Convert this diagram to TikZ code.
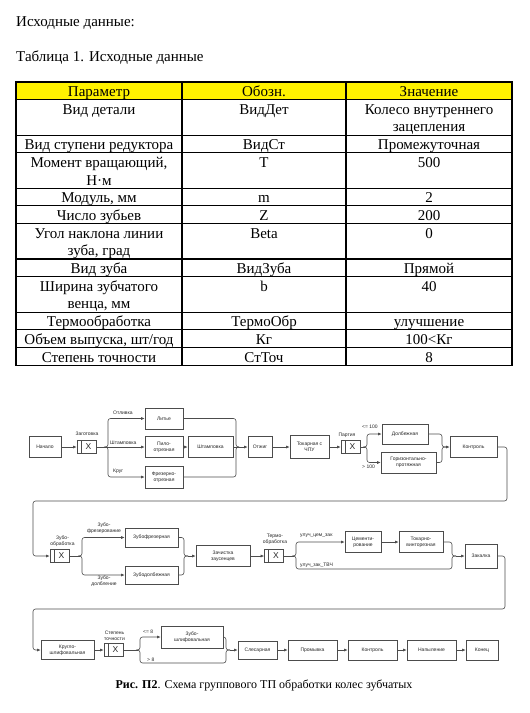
\documentclass[tikz,border=0pt]{standalone}
\usepackage{fontspec}
\setmainfont{Liberation Serif}
\newfontfamily\diafont{Liberation Sans}
\usetikzlibrary{arrows.meta}

\begin{document}
\begin{tikzpicture}[
  x=1pt, y=-1pt,
  cell/.style={anchor=north, align=center, inner sep=0pt,
    font=\fontsize{15}{17.7}\selectfont},
  op/.style={draw=black!70, fill=white, line width=0.7pt, align=center,
    inner sep=0pt, minimum height=21pt, text=black!85,
    font=\diafont\fontsize{5}{6}\selectfont},
  gate/.style={op, minimum width=19pt, minimum height=13pt,
    font=\diafont\fontsize{8.5}{9}\selectfont,
    path picture={\draw[black!70, line width=0.7pt]
      ([xshift=4pt]path picture bounding box.north west) --
      ([xshift=4pt]path picture bounding box.south west);}},
  lbl/.style={inner sep=0pt, align=center, text=black!85,
    font=\diafont\fontsize{5}{5.8}\selectfont},
  flow/.style={draw=black!70, line width=0.6pt, rounded corners=2.5pt},
  arr/.style={flow, -{Latex[length=3.5pt,width=3pt]}}
  ]

  \useasboundingbox (0,0) rectangle (530,713);

  \node[anchor=base west, inner sep=0pt, font=\fontsize{15}{18}\selectfont] (title) at (16,26.5) {Исходные данные:};
  \node[anchor=base west, inner sep=0pt, font=\fontsize{15}{18}\selectfont] (tabcap) at (16,61) {Таблица 1. Исходные данные};

  \fill[yellow] (16,82) rectangle (512,99.7);
  \foreach \y in {99.7,135.1,152.8,188.2,205.9,223.6,259,276.7,312.1,329.8,347.5}
    \draw[line width=1.1pt] (16,\y) -- (512,\y);
  \foreach \x in {182,346}
    \draw[line width=1.1pt] (\x,82) -- (\x,365.2);
  \draw[line width=1.1pt] (16,82) rectangle (512,365.2);

  \foreach \t/\a/\b/\c [count=\i] in {
    82/Параметр/Обозн./Значение,
    99.7/Вид детали/ВидДет/{Колесо внутреннего\\зацепления},
    135.1/Вид ступени редуктора/ВидСт/Промежуточная,
    152.8/{Момент вращающий,\\Н·м}/T/500,
    188.2/{Модуль, мм}/m/2,
    205.9/Число зубьев/Z/200,
    223.6/{Угол наклона линии\\зуба, град}/Beta/0,
    259/Вид зуба/ВидЗуба/Прямой,
    276.7/{Ширина зубчатого\\венца, мм}/b/40,
    312.1/Термообработка/ТермоОбр/улучшение,
    329.8/{Объем выпуска, шт/год}/Кг/100<Кг,
    347.5/Степень точности/СтТоч/8}{
    \node[cell] (par\i) at (99,\t+2) {\strut\a};
    \node[cell] (obz\i) at (264,\t+2) {\strut\b};
    \node[cell] (zn\i) at (429,\t+2) {\strut\c};
  }

  \node[op, minimum width=32pt] (start) at (45,447) {Начало};
  \node[gate] (xzag) at (86.5,447) {\hspace{4pt}X};
  \node[lbl] (lzag) at (87,434) {Заготовка};
  \coordinate (s1) at (106,447);
  \node[op, minimum width=38pt] (lit) at (164,418.5) {Литье};
  \node[op, minimum width=38pt] (pilo) at (164,447) {Пило-\\отрезная};
  \node[op, minimum width=38pt, minimum height=22pt] (frez) at (164,477) {Фрезерно-\\отрезная};
  \node[lbl, anchor=west] (lotl) at (113,413) {Отливка};
  \node[lbl, anchor=west] (lsht) at (110,442.5) {Штамповка};
  \node[lbl, anchor=west] (lkrug) at (113,471) {Круг};
  \node[op, minimum width=45pt] (shtamp) at (210.5,447) {Штамповка};
  \coordinate (m1) at (239,447);
  \node[op, minimum width=24pt] (otzh) at (260,447) {Отжиг};
  \node[op, minimum width=39pt, minimum height=23pt] (tok) at (309.5,447) {Токарная с\\ЧПУ};
  \node[gate] (xpart) at (350.5,447) {\hspace{4pt}X};
  \node[lbl] (lpart) at (347,435) {Партия};
  \coordinate (s2) at (365,447);
  \node[op, minimum width=46pt, minimum height=20pt] (dolb) at (405,434) {Долбежная};
  \node[op, minimum width=55pt] (gor) at (408.5,462.5) {Горизонтально-\\протяжная};
  \node[lbl, anchor=west] (l100a) at (362,427) {<= 100};
  \node[lbl, anchor=west] (l100b) at (362,467) {> 100};
  \coordinate (m2) at (446,447);
  \node[op, minimum width=47pt] (kontr) at (473.5,447) {Контроль};
  \coordinate (r1) at (507,501);
  \coordinate (r2) at (33,501);

  \draw[arr] (start) -- (xzag);
  \draw[flow] (xzag) -- (s1);
  \draw[arr] (s1) -- ++(2,0) |- (lit);
  \draw[arr] (s1) -- (pilo);
  \draw[arr] (s1) -- ++(2,0) |- (frez);
  \draw[arr] (pilo) -- (shtamp);
  \draw[flow] (lit.east) -| ([xshift=-3pt]m1) -- (m1);
  \draw[flow] (frez.east) -| ([xshift=-3pt]m1) -- (m1);
  \draw[flow] (shtamp) -- (m1);
  \draw[arr] (m1) -- (otzh);
  \draw[arr] (otzh) -- (tok);
  \draw[arr] (tok) -- (xpart);
  \draw[flow] (xpart) -- (s2);
  \draw[arr] (s2) -- ++(2,0) |- (dolb);
  \draw[arr] (s2) -- ++(2,0) |- (gor);
  \draw[flow] (dolb.east) -| ([xshift=-4pt]m2) -- (m2);
  \draw[flow] (gor.east) -| ([xshift=-4pt]m2) -- (m2);
  \draw[arr] (m2) -- (kontr);

  \node[gate] (xzub) at (59.5,556) {\hspace{4pt}X};
  \node[lbl] (lzub) at (62.5,541) {Зубо-\\обработка};
  \coordinate (s3) at (80,556);
  \node[op, minimum width=53pt, minimum height=19pt] (zfrez) at (151.5,537.5) {Зубофрезерная};
  \node[op, minimum width=53pt, minimum height=18pt] (zdolb) at (151.5,575) {Зубодолбежная};
  \node[lbl] (lzfrez) at (104,528) {Зубо-\\фрезерование};
  \node[lbl] (lzdolb) at (104,581.5) {Зубо-\\долбление};
  \coordinate (m3) at (188,556);
  \node[op, minimum width=54pt] (zach) at (223,556) {Зачистка\\заусенцев};
  \node[gate] (xterm) at (274,556) {\hspace{4pt}X};
  \node[lbl] (lterm) at (275,539.5) {Термо-\\обработка};
  \coordinate (s4) at (294,556);
  \node[op, minimum width=36pt] (cem) at (363,542) {Цементи-\\рование};
  \node[op, minimum width=44pt] (tokv) at (421,542) {Токарно-\\винторезная};
  \node[lbl, anchor=west] (lcem) at (300,536) {улуч\_цем\_зак};
  \node[lbl, anchor=west] (lzak) at (300,565.5) {улуч\_зак\_ТВЧ};
  \coordinate (b4) at (452,569);
  \coordinate (m4) at (456,556);
  \node[op, minimum width=32pt, minimum height=24pt] (zak) at (481,556) {Закалка};
  \coordinate (r3) at (505,609);
  \coordinate (r4) at (33,609);

  \draw[arr] (kontr.east) -| (r1) -- (r2) |- (xzub);
  \draw[flow] (xzub) -- (s3);
  \draw[arr] (s3) -- ++(2,0) |- (zfrez);
  \draw[arr] (s3) -- ++(2,0) |- (zdolb);
  \draw[flow] (zfrez.east) -| ([xshift=-4pt]m3) -- (m3);
  \draw[flow] (zdolb.east) -| ([xshift=-4pt]m3) -- (m3);
  \draw[arr] (m3) -- (zach);
  \draw[arr] (zach) -- (xterm);
  \draw[flow] (xterm) -- (s4);
  \draw[arr] (s4) -- ++(2,0) |- (cem);
  \draw[arr] (cem) -- (tokv);
  \draw[flow] (s4) -- ++(2,0) |- (b4) -- ([xshift=-4pt]m4) -- (m4);
  \draw[flow] (tokv.east) -| ([xshift=-4pt]m4) -- (m4);
  \draw[arr] (m4) -- (zak);

  \node[op, minimum width=53pt, minimum height=19pt] (krug) at (67.5,650) {Кругло-\\шлифовальная};
  \node[gate] (xst) at (113.5,650) {\hspace{4pt}X};
  \node[lbl] (lst) at (114.5,635.5) {Степень\\точности};
  \coordinate (s5) at (138,650);
  \node[op, minimum width=62pt, minimum height=22pt] (zshl) at (192,637) {Зубо-\\шлифовальная};
  \node[lbl, anchor=west] (l8a) at (143,632) {<= 8};
  \node[lbl, anchor=west] (l8b) at (147,659.5) {> 8};
  \coordinate (b5) at (226,663);
  \coordinate (m5) at (230,650);
  \node[op, minimum width=39pt, minimum height=18pt] (sles) at (257.5,650) {Слесарная};
  \node[op, minimum width=49pt, minimum height=20pt] (prom) at (312.5,650) {Промывка};
  \node[op, minimum width=49pt, minimum height=20pt] (kontr2) at (372.5,650) {Контроль};
  \node[op, minimum width=49pt, minimum height=20pt] (napyl) at (431.5,650) {Напыление};
  \node[op, minimum width=32pt, minimum height=20pt] (kon) at (482,650) {Конец};

  \draw[arr] (zak.east) -| (r3) -- (r4) |- (krug);
  \draw[arr] (krug) -- (xst);
  \draw[flow] (xst) -- (s5);
  \draw[arr] (s5) -- ++(2,0) |- (zshl);
  \draw[flow] (s5) -- ++(2,0) |- (b5) -- ([xshift=-4pt]m5) -- (m5);
  \draw[flow] (zshl.east) -| ([xshift=-4pt]m5) -- (m5);
  \draw[arr] (m5) -- (sles);
  \foreach \a/\b in {sles/prom, prom/kontr2, kontr2/napyl, napyl/kon}
    \draw[arr] (\a) -- (\b);

  \node[anchor=base, inner sep=0pt, font=\fontsize{12}{14}\selectfont] (cap) at (264,688) {\textbf{Рис. П2}. Схема группового ТП обработки колес зубчатых};

\end{tikzpicture}
\end{document}
